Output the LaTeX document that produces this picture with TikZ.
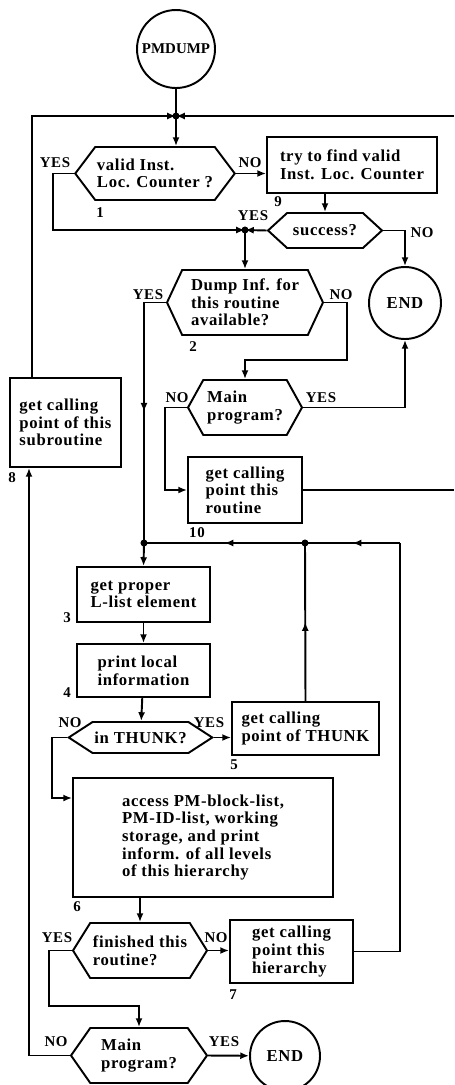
\documentclass[tikz,border=0pt]{standalone}
\usepackage{fontspec}
\setmainfont{Liberation Serif}[LetterSpace=4]
\usetikzlibrary{arrows.meta, shapes.symbols, decorations.markings}

\begin{document}
\begin{tikzpicture}[x=0.02cm, y=-0.02cm, line width=1.1pt,
  font=\fontsize{9.5}{10}\selectfont\bfseries,
  box/.style={draw, rectangle, align=left, inner sep=2pt},
  test/.style={draw, shape=signal, signal to=east and west, align=left, inner sep=1pt},
  term/.style={draw, circle, inner sep=0pt},
  lbl/.style={inner sep=0pt, font=\fontsize{8.5}{9}\selectfont\bfseries},
  arr/.style={-{Latex[length=5pt,width=4pt]}},
  flow/.style={postaction={decorate}, decoration={markings, mark=at position 0.5 with {\arrow{Latex[length=5pt,width=4pt]}}}},
  dot/.style={circle, fill, inner sep=0pt, minimum size=4pt}]
\useasboundingbox (0,0) rectangle (454,1085);

% blocks
\node[term, minimum size=1.56cm, font=\fontsize{8.5}{9}\selectfont\bfseries\addfontfeatures{LetterSpace=0}] (start) at (176,49) {PMDUMP};
\node[test, minimum width=3.12cm, minimum height=1.06cm, signal pointer angle=106] (valid) at (155,173.5) {valid Inst.\\Loc. Counter ?};
\node[box, minimum width=3.4cm, minimum height=1.12cm] (find) at (352,165) {try to find valid\\Inst. Loc. Counter};
\node[test, minimum width=2.28cm, minimum height=0.7cm, signal pointer angle=85] (succ) at (325,230.5) {success?};
\node[term, minimum size=1.44cm] (end1) at (405,303) {END};
\node[test, minimum width=3.12cm, minimum height=1.3cm, signal pointer angle=130] (dump) at (245,302.5) {Dump Inf. for\\this routine\\available?};
\node[test, minimum width=2.28cm, minimum height=1.1cm, signal pointer angle=122] (main1) at (245,407.5) {Main\\program?};
\node[box, minimum width=2.28cm, minimum height=1.32cm] (callr) at (245,490) {get calling\\point this\\routine};
\node[box, minimum width=2.22cm, minimum height=1.78cm] (sub) at (65.5,422.5) {get calling\\point of this\\subroutine};
\node[box, minimum width=2.66cm, minimum height=1.1cm] (elem) at (143.5,594.5) {get proper\\L-list element};
\node[box, minimum width=2.66cm, minimum height=1.06cm] (info) at (143.5,670.5) {print local\\information};
\node[test, minimum width=2.7cm, minimum height=0.62cm, signal pointer angle=66] (thunk) at (140.5,737.5) {in THUNK?};
\node[box, minimum width=2.94cm, minimum height=1.06cm] (callt) at (305.5,728.5) {get calling\\point of THUNK};
\node[box, minimum width=5.2cm, minimum height=2.38cm] (access) at (203,837.5) {access PM-block-list,\\PM-ID-list, working\\storage, and print\\inform. of all levels\\of this hierarchy};
\node[test, minimum width=2.68cm, minimum height=1.1cm, signal pointer angle=116] (fin) at (140,950.5) {finished this\\routine?};
\node[box, minimum width=2.46cm, minimum height=1.26cm] (callh) at (291.5,951.5) {get calling\\point this\\hierarchy};
\node[test, minimum width=2.72cm, minimum height=1.1cm, signal pointer angle=110] (main2) at (139,1055.5) {Main\\program?};
\node[term, minimum size=1.4cm] (end2) at (285,1056) {END};

% junctions and bends
\coordinate (jtop) at (176,116);
\coordinate (ltop) at (32,116);
\coordinate (rtop) at (454,116);
\coordinate (jyes) at (245,230);
\coordinate (vyes) at (53,230);
\coordinate (dno) at (347,360);
\coordinate (mno) at (165,490);
\coordinate (rout) at (454,490);
\coordinate (jloop) at (144,543);
\coordinate (jret) at (305,543);
\coordinate (rloop) at (400,543);
\coordinate (tno) at (52,798);
\coordinate (fyes) at (49,1006);
\coordinate (mloop) at (29,1055);
\node[dot] (d1) at (jtop) {};
\node[dot] (d2) at (jyes) {};
\node[dot] (d3) at (jloop) {};
\node[dot] (d4) at (jret) {};

% flow lines
\draw (start) -- (jtop);
\draw[arr] (jtop) -- (jtop |- valid.north);
\draw[arr] (ltop |- sub.north) -- (ltop) -- (jtop);
\draw[arr] (rtop) -- (jtop);
\draw[arr] (valid.west) -| (vyes) -- (jyes);
\draw[arr] (valid.east) -- (valid.east -| find.west);
\draw[arr] (succ.north |- find.south) -- (succ.north);
\draw[arr] (succ.west) -- (jyes);
\draw[arr] (succ.east) -| (end1.north);
\draw[arr] (jyes) -- (dump.north);
\draw[flow] (dump.west) -| (jloop);
\draw[arr] (dump.east) -| (dno) -| (main1.north);
\draw[arr] (main1.east) -| (end1.south);
\draw[arr] (main1.west) -| (mno) -- (callr.west);
\draw (callr.east) -- (rout);
\draw[arr] (jloop) -- (elem.north);
\draw[flow] (rloop) -- (jret);
\draw[flow] (jret) -- (jloop);
\draw[flow] (callt.north) -- (jret);
\draw[arr] (elem) -- (info);
\draw[arr] (info) -- (thunk);
\draw[arr] (thunk.east) -- (thunk.east -| callt.west);
\draw[arr] (thunk.west) -| (tno) -- (tno -| access.west);
\draw[arr] (fin.north |- access.south) -- (fin.north);
\draw[arr] (fin.east) -- (fin.east -| callh.west);
\draw (callh.east) -| (rloop);
\draw[arr] (fin.west) -| (fyes) -| (main2.north);
\draw[arr] (main2.east) -- (end2);
\draw[arr] (main2.west) -| (mloop |- sub.south);

% answers and numbers
\node[lbl] (y1) at (55,163) {YES};
\node[lbl] (n1) at (250,163) {NO};
\node[lbl] (k1) at (100,213) {1};
\node[lbl] (k9) at (278,202) {9};
\node[lbl] (ys) at (253,216) {YES};
\node[lbl] (ns) at (422,233) {NO};
\node[lbl] (y2) at (148,295) {YES};
\node[lbl] (n2) at (341,295) {NO};
\node[lbl] (k2) at (193,347) {2};
\node[lbl] (nm1) at (177,398) {NO};
\node[lbl] (ym1) at (321,398) {YES};
\node[lbl] (k10) at (197,533) {10};
\node[lbl] (k8) at (12,478) {8};
\node[lbl] (k3) at (67,618) {3};
\node[lbl] (k4) at (67,693) {4};
\node[lbl] (nt) at (70,723) {NO};
\node[lbl] (yt) at (209,723) {YES};
\node[lbl] (k5) at (234,765) {5};
\node[lbl] (k6) at (77,907) {6};
\node[lbl] (yf) at (57,938) {YES};
\node[lbl] (nf) at (216,938) {NO};
\node[lbl] (k7) at (233,995) {7};
\node[lbl] (nm2) at (56,1042) {NO};
\node[lbl] (ym2) at (224,1042) {YES};
\end{tikzpicture}
\end{document}
